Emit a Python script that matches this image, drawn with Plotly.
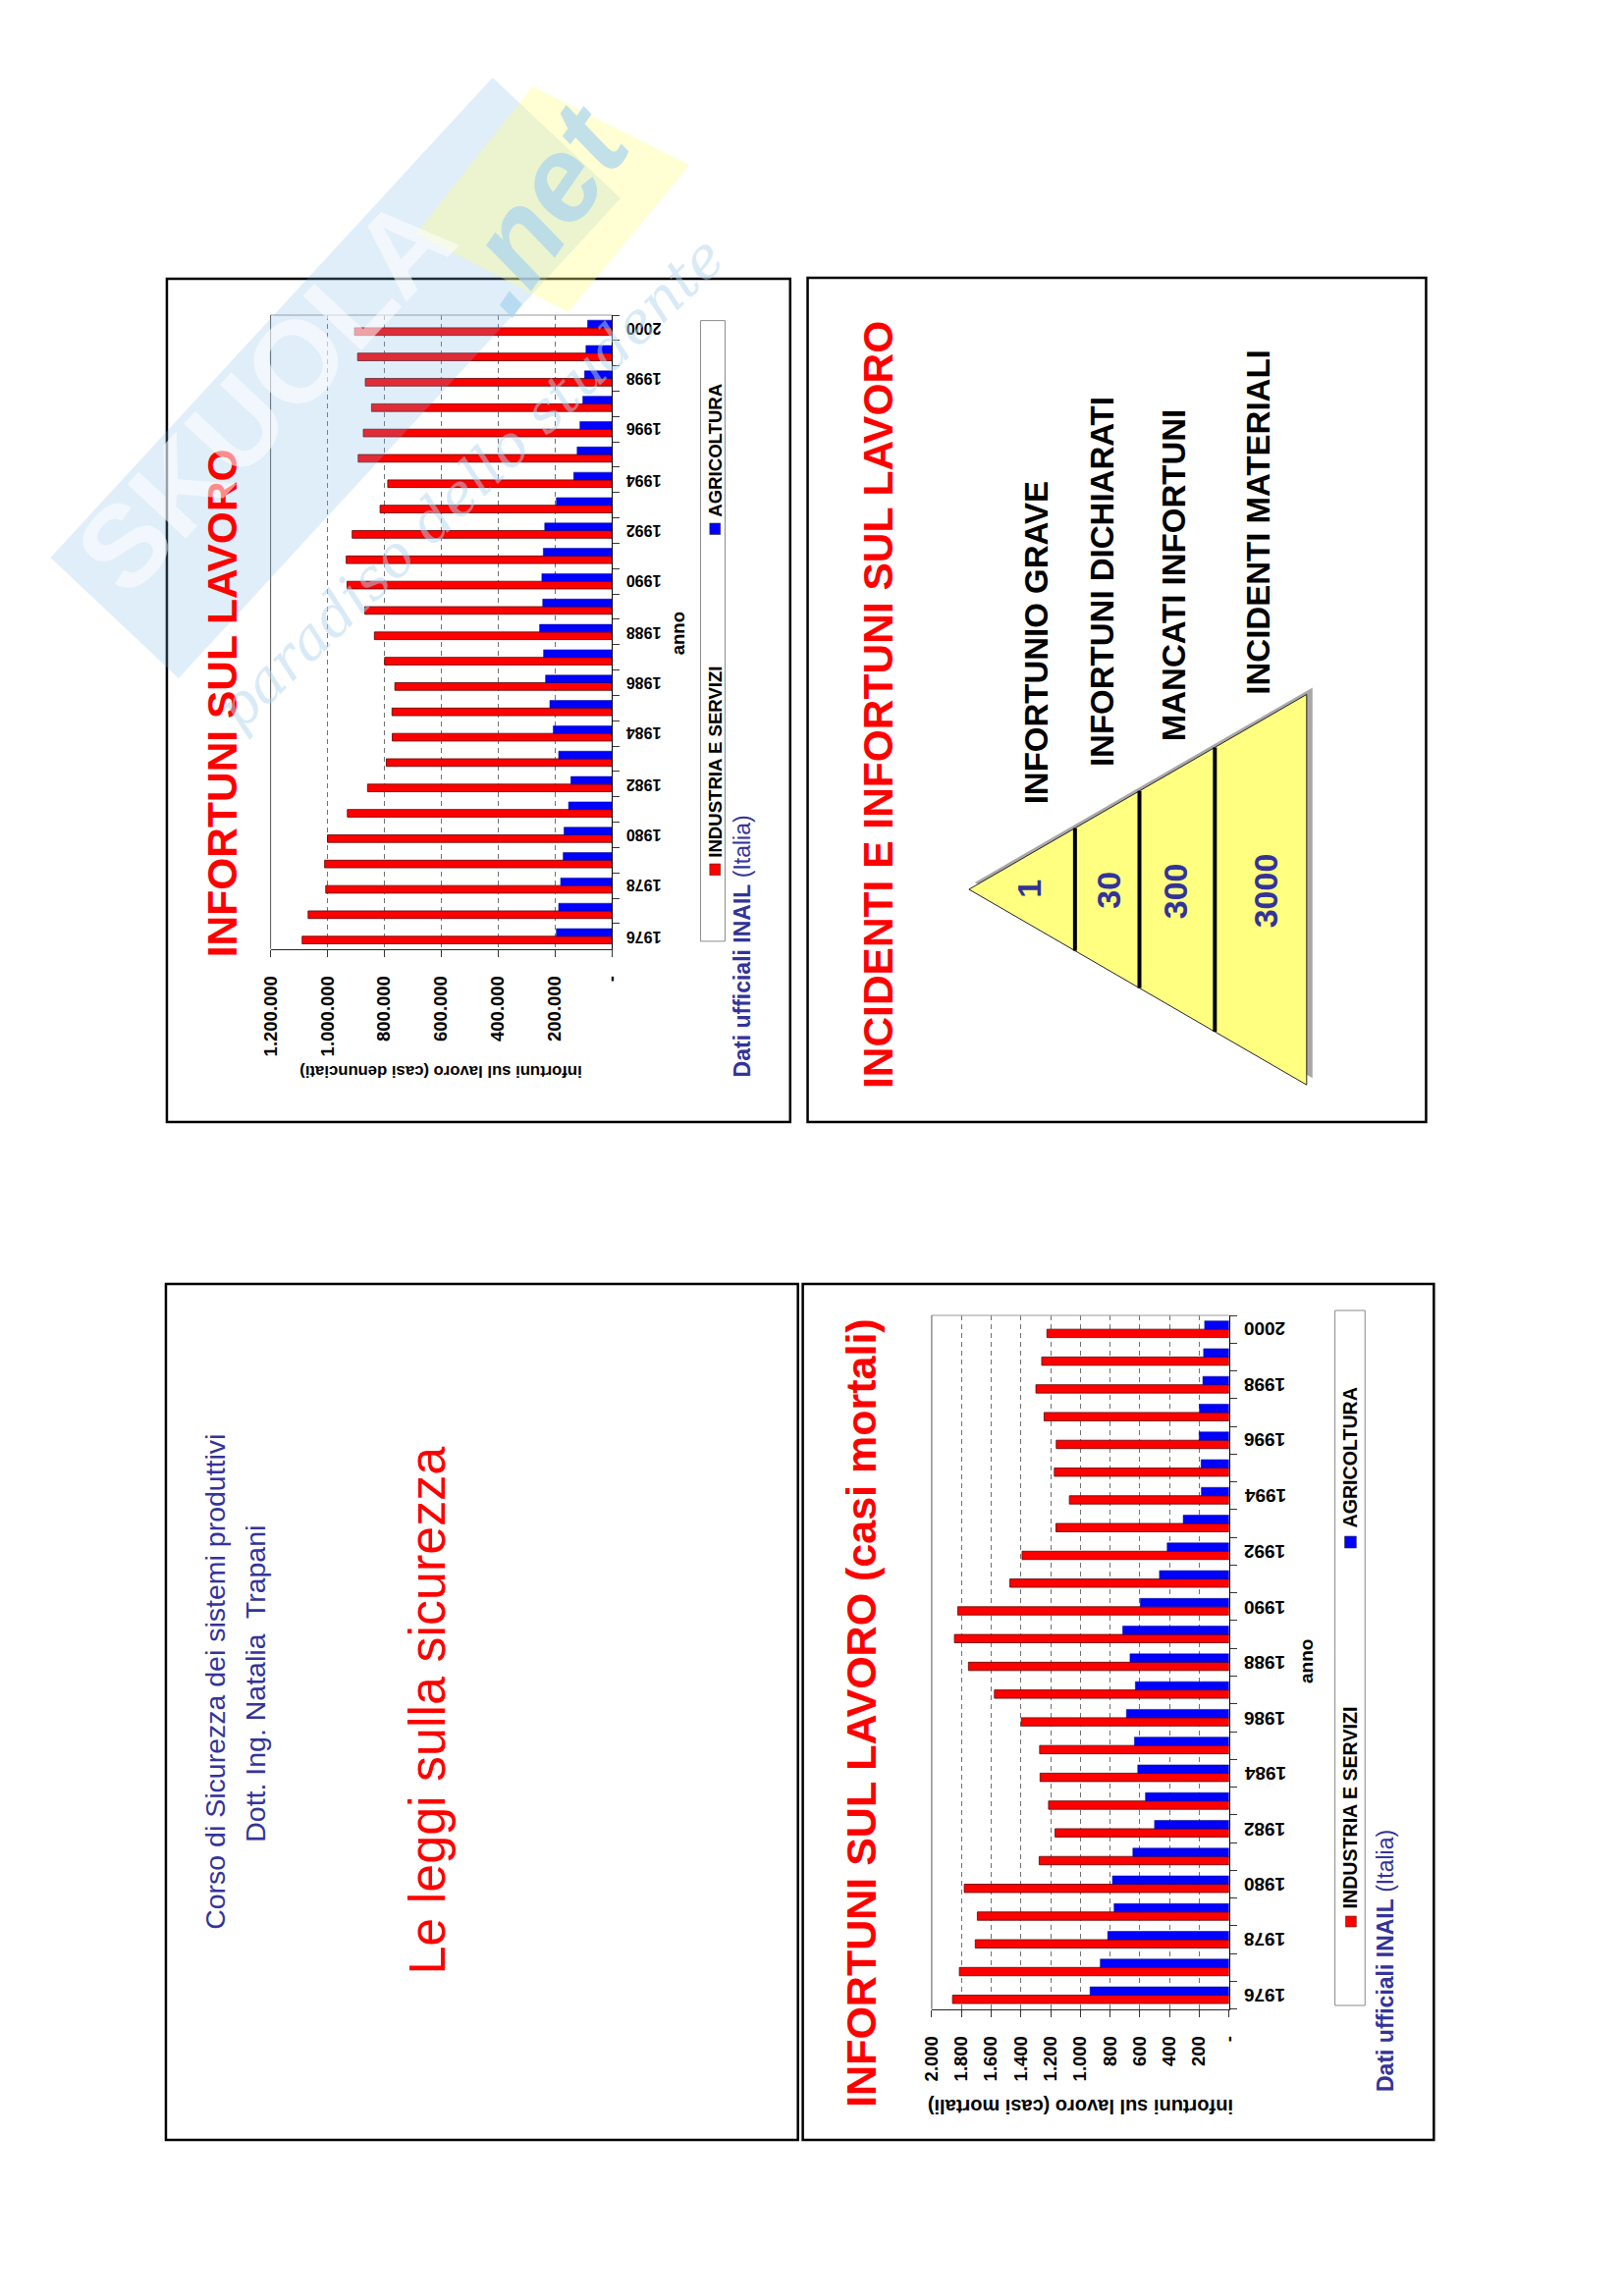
import plotly.graph_objects as go

# ---------------- data ----------------
YEARS = ["1976", "1977", "1978", "1979", "1980", "1981", "1982", "1983", "1984",
         "1985", "1986", "1987", "1988", "1989", "1990", "1991", "1992", "1993",
         "1994", "1995", "1996", "1997", "1998", "1999", "2000"]
YEAR_LABELS = ["1976", "1978", "1980", "1982", "1984", "1986", "1988", "1990", "1992",
               "1994", "1996", "1998", "2000"]

DEN_INDUSTRIA = [1089000, 1068000, 1006000, 1010000, 1000000, 930000, 859000, 793000,
                 772000, 773000, 763000, 799000, 835000, 869000, 931000, 934000, 913000,
                 815000, 788000, 892000, 874000, 845000, 867000, 894000, 905000]
DEN_AGRICOLTURA = [195000, 187000, 180000, 171000, 168000, 152000, 144000, 187000,
                   206000, 218000, 233000, 240000, 254000, 243000, 246000, 241000, 236000,
                   195000, 134000, 122000, 112000, 102000, 96000, 91000, 85000]
MORT_INDUSTRIA = [1860, 1814, 1707, 1693, 1781, 1277, 1170, 1214, 1271, 1274, 1397, 1578,
                  1753, 1847, 1825, 1474, 1392, 1164, 1074, 1175, 1162, 1244, 1299, 1260, 1225]
MORT_AGRICOLTURA = [935, 866, 816, 773, 784, 647, 501, 562, 614, 636, 690, 630, 666, 715,
                    597, 468, 416, 308, 186, 188, 201, 199, 176, 171, 164]

DEN_TICKVALS = [0, 200000, 400000, 600000, 800000, 1000000, 1200000]
DEN_TICKTEXT = ["-", "200.000", "400.000", "600.000", "800.000", "1.000.000", "1.200.000"]
MORT_TICKVALS = [0, 200, 400, 600, 800, 1000, 1200, 1400, 1600, 1800, 2000]
MORT_TICKTEXT = ["-", "200", "400", "600", "800", "1.000", "1.200", "1.400", "1.600",
                 "1.800", "2.000"]

SERIES = ["INDUSTRIA E SERVIZI", "AGRICOLTURA"]
PYR_NUMS = ["1", "30", "300", "3000"]
PYR_LABELS = ["INFORTUNIO GRAVE", "INFORTUNI DICHIARATI", "MANCATI INFORTUNI",
              "INCIDENTI MATERIALI"]

# ---------------- helpers ----------------
W, H = 1653, 2339
FONT = "Liberation Sans, Arial, sans-serif"
RED = "#FF0000"
BLUE = "#0000FF"
NAVY = "#333399"


def fx(x):
    return x / W


def fy(y):
    return 1 - y / H


annotations = []
shapes = []


def ann(x, y, text, size, color="black", angle=-90, bold=True, family=FONT,
        opacity=1.0, italic=False):
    annotations.append(dict(
        x=fx(x), y=fy(y), xref="paper", yref="paper", text=text, showarrow=False,
        textangle=angle, xanchor="center", yanchor="middle", opacity=opacity,
        font=dict(family=family, size=size, color=color,
                  weight="bold" if bold else "normal",
                  style="italic" if italic else "normal")))


def rect(x0, y0, x1, y1, color="black", width=2, fill=None, layer="above"):
    shapes.append(dict(type="rect", xref="paper", yref="paper",
                       x0=fx(x0), x1=fx(x1), y0=fy(y1), y1=fy(y0),
                       line=dict(color=color, width=width),
                       fillcolor=fill if fill else "rgba(0,0,0,0)", layer=layer))


def poly(points, fill, line_color="rgba(0,0,0,0)", line_width=0, opacity=1.0,
         layer="above"):
    path = "M " + " L ".join(f"{fx(x):.5f},{fy(y):.5f}" for x, y in points) + " Z"
    shapes.append(dict(type="path", xref="paper", yref="paper", path=path,
                       fillcolor=fill, line=dict(color=line_color, width=line_width),
                       opacity=opacity, layer=layer))


def line(x0, y0, x1, y1, color="black", width=1):
    shapes.append(dict(type="line", xref="paper", yref="paper",
                       x0=fx(x0), y0=fy(y0), x1=fx(x1), y1=fy(y1),
                       line=dict(color=color, width=width), layer="above"))


fig = go.Figure()

# ---------------- bars ----------------
for xa, ya, ind, agr in (("x", "y", DEN_INDUSTRIA, DEN_AGRICOLTURA),
                         ("x2", "y2", MORT_INDUSTRIA, MORT_AGRICOLTURA)):
    fig.add_trace(go.Bar(y=YEARS, x=ind, orientation="h", name=SERIES[0],
                         width=0.3, offset=-0.3, xaxis=xa, yaxis=ya,
                         marker=dict(color=RED, line=dict(color="#5a0000", width=0.8)),
                         showlegend=False, hoverinfo="skip"))
    fig.add_trace(go.Bar(y=YEARS, x=agr, orientation="h", name=SERIES[1],
                         width=0.3, offset=0.0, xaxis=xa, yaxis=ya,
                         marker=dict(color=BLUE, line=dict(color="#00007a", width=0.5)),
                         showlegend=False, hoverinfo="skip"))


def value_axis(dom, rng, tv, tt, anchor):
    return dict(domain=dom, range=rng, tickmode="array", tickvals=tv, ticktext=tt,
                tickangle=-90, ticks="outside", ticklen=7, tickcolor="#333",
                tickfont=dict(family=FONT, size=18.5, color="black", weight="bold"),
                ticklabelstandoff=12,
                showgrid=True, gridcolor="#707070", griddash="5px,4px", gridwidth=1,
                showline=True, linecolor="#222", linewidth=1, zeroline=False,
                anchor=anchor, fixedrange=True)


def cat_axis(dom, anchor):
    return dict(domain=dom, type="category", categoryorder="array", categoryarray=YEARS,
                range=[-0.5, len(YEARS) - 0.5], autorange=False,
                tickmode="array", tickvals=YEARS, showticklabels=False, side="right",
                ticks="outside", tickson="boundaries", ticklen=7, tickcolor="#333",
                showline=True, linecolor="black", linewidth=1, showgrid=False,
                zeroline=False, anchor=anchor, fixedrange=True)


C1 = dict(x0=268, x1=620, y0=321, y1=966.7)
C2 = dict(x0=950, x1=1256.7, y0=1340, y1=2046.7)

layout_axes = dict(
    xaxis=value_axis([fx(C1["x0"]), fx(C1["x1"])], [1200000, 0], DEN_TICKVALS,
                     DEN_TICKTEXT, "y"),
    yaxis=cat_axis([fy(C1["y1"]), fy(C1["y0"])], "x"),
    xaxis2=value_axis([fx(C2["x0"]), fx(C2["x1"])], [2000, 0], MORT_TICKVALS,
                      MORT_TICKTEXT, "y2"),
    yaxis2=cat_axis([fy(C2["y1"]), fy(C2["y0"])], "x2"),
)

# year labels (upside down, as in the rotated slide), placed on the category scale
for yref, xc, size in (("y", 653, 16), ("y2", 1294, 19)):
    for yr in YEAR_LABELS:
        annotations.append(dict(x=fx(xc), xref="paper", y=YEARS.index(yr), yref=yref,
                                text=yr, showarrow=False, textangle=180,
                                xanchor="center", yanchor="middle",
                                font=dict(family=FONT, size=size, color="black",
                                          weight="bold")))

# plot-area edges (top light, left darker)
for c in (C1, C2):
    line(c["x0"], c["y0"], c["x1"], c["y0"], color="#9a9a9a", width=1)
    line(c["x0"], c["y0"], c["x0"], c["y1"], color="#555555", width=1)

# ---------------- slide frames ----------------
rect(161, 284, 804, 1143, width=2.5)      # chart 1 slide
rect(822, 283, 1460, 1143, width=2.5)     # pyramid slide
rect(160, 1308, 812, 2180, width=2.5)     # title slide
rect(817, 1308, 1468, 2180, width=2.5)    # chart 2 slide

# ---------------- chart 1 texts ----------------
ann(218, 716, "INFORTUNI SUL LAVORO", 42.5, RED)
ann(444, 1092, "infortuni sul lavoro (casi denunciati)", 16.7, "black", angle=180)
ann(688, 645, "anno", 18.5, "black")
rect(711.5, 326.6, 736.8, 958.9, color="#8a8a8a", width=1, fill="white")
rect(721, 880, 732, 891.7, color="#333", width=0.6, fill=RED)
rect(721, 533, 732, 544.5, color="#333", width=0.6, fill=BLUE)
ann(726, 776, SERIES[0], 18.6, "black")
ann(726, 459, SERIES[1], 18.6, "black")
ann(755, 964, "<b>Dati ufficiali INAIL</b> (Italia)", 23, NAVY, bold=False)

# ---------------- chart 2 texts ----------------
ann(876.5, 1744.5, "INFORTUNI SUL LAVORO (casi mortali)", 43, RED)
ann(1103, 2146, "infortuni sul lavoro (casi mortali)", 20, "black", angle=180)
ann(1336, 1693, "anno", 19, "black")
rect(1366, 1335, 1397, 2043, color="#8a8a8a", width=1, fill="white")
rect(1377, 1952, 1388, 1963, color="#333", width=0.6, fill=RED)
rect(1376, 1565, 1388, 1577, color="#333", width=0.6, fill=BLUE)
ann(1382, 1841, SERIES[0], 19.6, "black")
ann(1382, 1485, SERIES[1], 19.6, "black")
ann(1418, 1997, "<b>Dati ufficiali INAIL</b> (Italia)", 23, NAVY, bold=False)

# ---------------- title slide ----------------
ann(210.5, 1713, "Corso di Sicurezza dei sistemi produttivi", 28.5, NAVY, bold=False)
ann(252, 1715, "Dott. Ing. Natalia\u00a0 Trapani", 28.5, NAVY, bold=False)
ann(429, 1743, "Le leggi sulla sicurezza", 52, RED, bold=False)

# ---------------- pyramid slide ----------------
ann(895.5, 718, "INCIDENTI E INFORTUNI SUL LAVORO", 42.5, RED)
AX, AY = 988.4, 906.0
BX, BT, BB = 1336.8, 707.4, 1105.2
poly([(AX + 6, AY - 7), (BX + 6, BT - 7), (BX + 6, BB - 7)], "#a8a8a8")
poly([(AX, AY), (BX, BT), (BX, BB)], "#FFFF80", line_color="#222", line_width=1)
for xd in (1097.8, 1164.3, 1242.1):
    f = (xd - AX) / (BX - AX)
    line(xd, AY - f * (AY - BT), xd, AY + f * (BB - AY), color="black", width=4)
for txt, (cx, cy) in zip(PYR_NUMS, [(1050, 905), (1131.5, 906.5), (1201, 907.5),
                                    (1294.8, 907)]):
    ann(cx, cy, txt, 34, NAVY)
for txt, (cx, cy) in zip(PYR_LABELS, [(1057.4, 654.4), (1125.6, 592.8), (1200, 585.5),
                                      (1286, 532)]):
    ann(cx, cy, txt, 33, "black")

# ---------------- watermark (skuola.net logo, semi transparent) ----------------
poly([(41, 568), (497, 79), (629, 202), (173, 691)], "#7FB8E6", opacity=0.24)
poly([(418, 238), (538, 88), (700, 168), (575, 318)], "#FFFF80", opacity=0.35)
ann(262, 402, "SKUOLA", 118, "white", angle=-47, opacity=0.55)
ann(545, 212, ".net", 122, "#a9d3f0", angle=-55, opacity=0.7, italic=True)
ann(474, 492, "paradiso dello studente", 58, "#b5d7f0", angle=-44, bold=False,
    family="DejaVu Serif, serif", opacity=0.5, italic=True)

fig.update_layout(
    width=W, height=H, autosize=False,
    margin=dict(l=0, r=0, t=0, b=0, pad=0),
    paper_bgcolor="white", plot_bgcolor="rgba(0,0,0,0)",
    barmode="overlay", showlegend=False,
    annotations=annotations, shapes=shapes,
    **layout_axes,
)

fig.write_html("out.html", config={"displayModeBar": False},
               post_script="document.body.style.margin='0px';"
                           "document.body.style.padding='0px';")
